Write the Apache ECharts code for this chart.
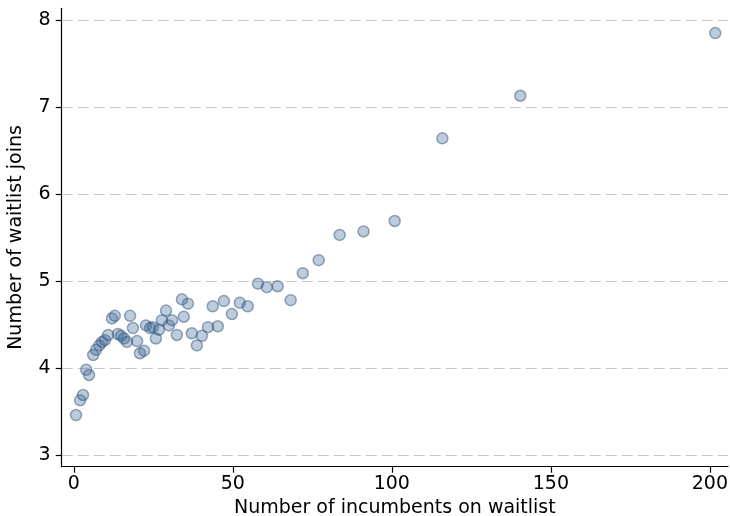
<!DOCTYPE html>
<html>
<head>
<meta charset="utf-8">
<script src="https://cdn.jsdelivr.net/npm/echarts@6/dist/echarts.min.js"></script>
<style>
html,body{margin:0;padding:0;background:#fff;overflow:hidden;}
#chart{width:730px;height:516px;}
</style>
</head>
<body>
<div id="chart"></div>
<script>
// Number of incumbents on waitlist
var incumbents = [0.7, 2.0, 2.9, 3.9, 4.8, 6.1, 7.0, 8.0, 8.9, 9.8, 10.8, 12.0, 12.9, 13.9, 14.9, 15.8, 16.7, 17.7, 18.6, 19.9,
  20.8, 22.1, 22.7, 24.0, 24.9, 25.8, 26.8, 27.7, 29.0, 29.9, 30.9, 32.4, 34.0, 34.6, 35.9, 37.1, 38.7, 40.3, 42.2, 43.7,
  45.3, 47.2, 49.7, 52.2, 54.7, 57.9, 60.7, 64.1, 68.2, 72.0, 77.0, 83.6, 91.1, 100.9, 115.9, 140.4, 201.7];
// Number of waitlist joins
var joins = [3.46, 3.63, 3.69, 3.98, 3.92, 4.15, 4.21, 4.26, 4.30, 4.32, 4.38, 4.57, 4.60, 4.39, 4.37, 4.34, 4.30, 4.60, 4.46, 4.31,
  4.17, 4.20, 4.49, 4.46, 4.47, 4.34, 4.44, 4.55, 4.66, 4.49, 4.55, 4.38, 4.79, 4.59, 4.74, 4.40, 4.26, 4.37, 4.47, 4.71,
  4.48, 4.77, 4.62, 4.75, 4.71, 4.97, 4.93, 4.94, 4.78, 5.09, 5.24, 5.53, 5.57, 5.69, 6.64, 7.13, 7.85];
var xTicks = [0, 50, 100, 150, 200];
var yTicks = [3, 4, 5, 6, 7, 8];
var xLabel = 'Number of incumbents on waitlist';
var yLabel = 'Number of waitlist joins';

var points = incumbents.map(function (x, i) { return [x, joins[i]]; });
var FONT = '"DejaVu Sans"';

var chart = echarts.init(document.getElementById('chart'), null, {renderer: 'canvas'});
chart.setOption({
  animation: false,
  backgroundColor: '#ffffff',
  grid: {left: 61.7, right: 2, top: 8.3, bottom: 49.3, containLabel: false, outerBoundsMode: 'none'},
  xAxis: {
    type: 'value',
    min: -3.8, max: 205.7,
    name: xLabel,
    nameLocation: 'middle',
    nameGap: 27,
    nameTextStyle: {fontFamily: FONT, fontSize: 19, color: '#000'},
    axisLine: {show: true, onZero: false, lineStyle: {color: '#000', width: 1.2}},
    axisTick: {show: true, length: 6, customValues: xTicks, lineStyle: {color: '#000', width: 1.2}},
    axisLabel: {show: true, customValues: xTicks, margin: 8, fontFamily: FONT, fontSize: 19, color: '#000'},
    splitLine: {show: false}
  },
  yAxis: {
    type: 'value',
    min: 2.866, max: 8.135,
    name: yLabel,
    nameLocation: 'middle',
    nameGap: 36,
    nameRotate: 90,
    nameTextStyle: {fontFamily: FONT, fontSize: 19, color: '#000'},
    axisLine: {show: true, onZero: false, lineStyle: {color: '#000', width: 1.2}},
    axisTick: {show: true, length: 6, customValues: yTicks, lineStyle: {color: '#000', width: 1.2}},
    axisLabel: {show: true, customValues: yTicks, margin: 11, fontFamily: FONT, fontSize: 19, color: '#000'},
    splitLine: {show: false}
  },
  series: [{
    type: 'scatter',
    data: points,
    symbol: 'circle',
    symbolSize: 11,
    itemStyle: {color: 'rgba(60,100,145,0.42)', borderColor: 'rgba(40,80,125,0.6)', borderWidth: 1.5},
    markLine: {
      silent: true,
      symbol: 'none',
      label: {show: false},
      lineStyle: {color: '#c8c8c8', type: [11, 5], width: 1.2},
      data: yTicks.map(function (v) { return {yAxis: v}; }),
      z: 0
    },
    z: 2
  }]
});
</script>
</body>
</html>
